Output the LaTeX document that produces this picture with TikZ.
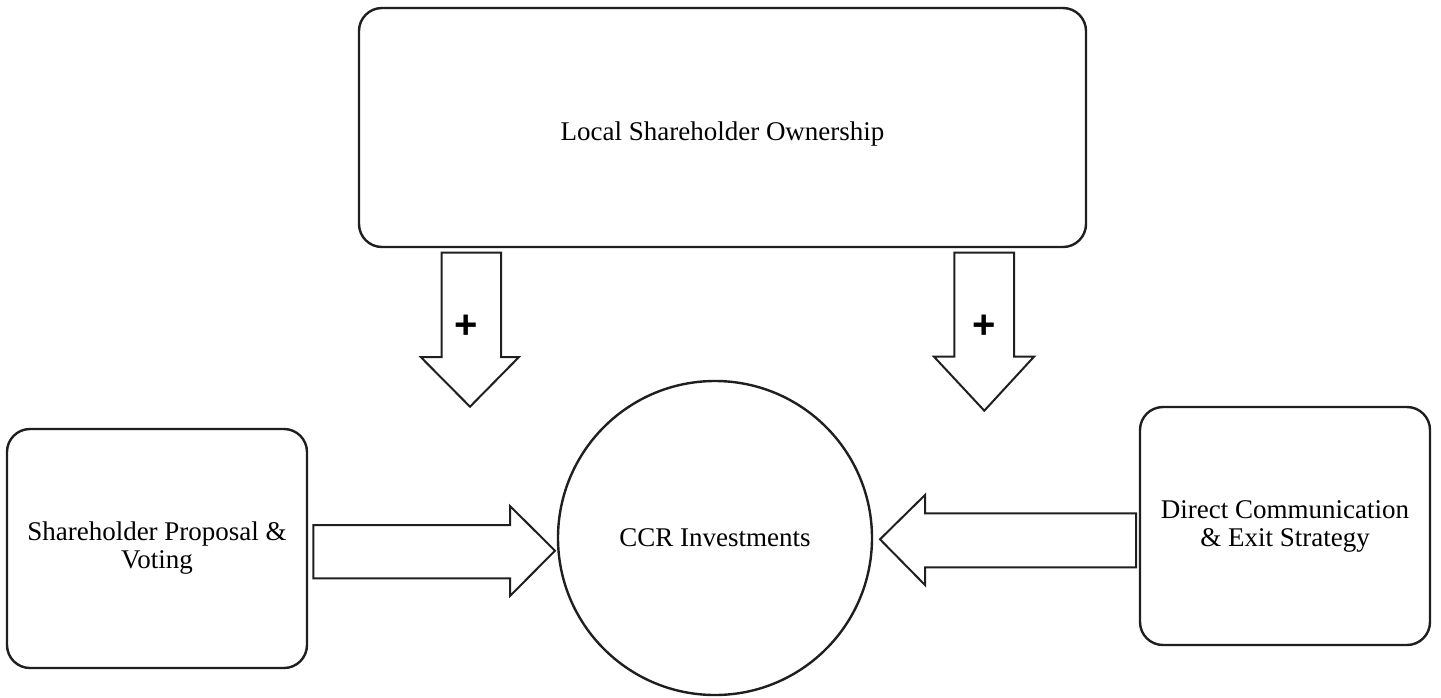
\documentclass[tikz,border=0pt]{standalone}
\usepackage{fontspec}
\setmainfont{Liberation Serif}
\newfontfamily\plusfont{Liberation Sans}
\begin{document}
\begin{tikzpicture}[x=1pt,y=-1pt,
  roundbox/.style={draw=black!88, line width=2.4pt, rounded corners=23pt,
    align=center, inner sep=0pt, font=\fontsize{27}{28}\selectfont},
  hubcircle/.style={draw=black!88, line width=2.4pt, circle, inner sep=0pt,
    minimum size=314pt, font=\fontsize{27}{28}\selectfont},
  blockarrow/.style={draw=black!88, line width=2pt, line join=miter, fill=white},
  signlabel/.style={inner sep=0pt, font=\plusfont\bfseries\fontsize{40}{40}\selectfont}]
\useasboundingbox (0,0) rectangle (1441,697);

% boxes and central circle
\node[roundbox, minimum width=727pt, minimum height=239pt, text height=31pt] (own)
  at (722.5,127.5) {Local Shareholder Ownership};
\node[roundbox, minimum width=300pt, minimum height=239pt] (vote) at (157,548.5)
  {Shareholder Proposal \&\\Voting};
\node[roundbox, minimum width=290pt, minimum height=238pt] (comm) at (1285,526)
  {Direct Communication\\\& Exit Strategy};
\node[hubcircle] (ccr) at (715,538) {CCR Investments};

% downward block arrows from the ownership box
\draw[blockarrow] (441.7,252.7) -- (501,252.7) -- (501,357) -- (519,357)
  -- (470,406.7) -- (420.7,357) -- (441.7,357) -- cycle;
\node[signlabel] (plusL) at (466,327) {+};
\draw[blockarrow] (954.3,252.7) -- (1014,252.7) -- (1014,356.7) -- (1034,356.7)
  -- (984.3,410.7) -- (934,356.7) -- (954.3,356.7) -- cycle;
\node[signlabel] (plusR) at (984.3,327) {+};

% horizontal block arrows into the circle
\draw[blockarrow] (313.3,525) -- (510,525) -- (510,506) -- (555,550.7)
  -- (510,596) -- (510,578.3) -- (313.3,578.3) -- cycle;
\draw[blockarrow] (1136,513.3) -- (925,513.3) -- (925,495) -- (880,539.3)
  -- (925,585) -- (925,567.3) -- (1136,567.3) -- cycle;
\end{tikzpicture}
\end{document}
